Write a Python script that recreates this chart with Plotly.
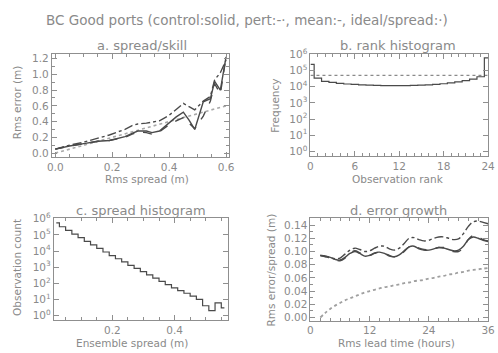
import plotly.graph_objects as go

# ---------------- data ----------------
# a. spread/skill
spread_x = [0.00, 0.05, 0.10, 0.15, 0.19, 0.22, 0.245, 0.27, 0.29, 0.32, 0.34,
            0.366, 0.40, 0.425, 0.45, 0.47, 0.49, 0.52, 0.545, 0.56, 0.58, 0.60]
err_control = [0.05, 0.09, 0.12, 0.15, 0.16, 0.19, 0.21, 0.25, 0.28, 0.28, 0.26,
               0.28, 0.39, 0.46, 0.52, 0.42, 0.30, 0.65, 0.69, 0.91, 0.80, 1.22]
err_pert = [0.05, 0.10, 0.14, 0.19, 0.23, 0.27, 0.30, 0.35, 0.37, 0.38, 0.39,
            0.41, 0.48, 0.56, 0.63, 0.59, 0.55, 0.66, 0.72, 0.93, 1.02, 1.18]
err_mean = [0.05, 0.09, 0.12, 0.15, 0.16, 0.18, 0.20, 0.24, 0.27, 0.26, 0.24,
            0.27, 0.36, 0.41, 0.45, 0.38, 0.31, 0.47, 0.66, 0.88, 0.75, 1.22]
err_ideal = [0.00, 0.05, 0.10, 0.15, 0.19, 0.22, 0.245, 0.27, 0.29, 0.32, 0.34,
             0.366, 0.40, 0.425, 0.45, 0.47, 0.49, 0.52, 0.545, 0.56, 0.58, 0.60]

# b. rank histogram
rank_bins = list(range(25))
rank_freq = [250000, 35000, 22000, 19000, 16500, 15000, 14000, 13200, 12600, 12300,
             12000, 12000, 12000, 12000, 12300, 12600, 13300, 14300, 15500, 17500,
             20000, 24000, 30000, 42000, 630000]

# c. spread histogram
spread_bin_centers = [0.02, 0.04, 0.06, 0.08, 0.10, 0.12, 0.14, 0.16, 0.18, 0.20,
                      0.22, 0.24, 0.26, 0.28, 0.30, 0.32, 0.34, 0.36, 0.38, 0.40,
                      0.42, 0.44, 0.46, 0.48, 0.50, 0.52, 0.54, 0.56]
spread_counts = [560000, 320000, 190000, 112000, 68000, 40000, 24000, 14500, 8700, 5200,
                 3300, 2100, 1300, 830, 520, 330, 210, 130, 83, 52,
                 35, 24, 16, 10, 4, 2, 6, 3]

# d. error growth
lead_hours = [2, 3, 4, 5, 6, 7, 8, 9, 10, 11, 12, 13, 14, 15, 16, 17, 18, 19,
              20, 21, 22, 23, 24, 25, 26, 27, 28, 29, 30, 31, 32, 33, 34, 35, 36]
growth_control = [0.094, 0.093, 0.091, 0.088, 0.087, 0.091, 0.097, 0.100, 0.097, 0.093,
                  0.094, 0.098, 0.099, 0.097, 0.093, 0.092, 0.095, 0.101, 0.107, 0.108,
                  0.104, 0.102, 0.102, 0.104, 0.106, 0.105, 0.103, 0.101, 0.102, 0.108,
                  0.118, 0.122, 0.120, 0.117, 0.115]
growth_mean = [0.094, 0.092, 0.090, 0.087, 0.086, 0.090, 0.097, 0.101, 0.098, 0.094,
               0.094, 0.097, 0.099, 0.097, 0.094, 0.092, 0.094, 0.100, 0.107, 0.109,
               0.105, 0.103, 0.103, 0.104, 0.106, 0.106, 0.103, 0.100, 0.100, 0.106,
               0.118, 0.124, 0.122, 0.118, 0.116]
growth_pert = [0.094, 0.093, 0.091, 0.089, 0.090, 0.096, 0.102, 0.105, 0.103, 0.100,
               0.101, 0.105, 0.108, 0.108, 0.104, 0.102, 0.105, 0.112, 0.120, 0.121,
               0.118, 0.116, 0.117, 0.120, 0.122, 0.122, 0.120, 0.118, 0.119, 0.127,
               0.138, 0.145, 0.146, 0.144, 0.142]
growth_spread = [0.000, 0.007, 0.013, 0.018, 0.022, 0.026, 0.029, 0.032, 0.035, 0.038,
                 0.040, 0.042, 0.044, 0.046, 0.047, 0.049, 0.050, 0.052, 0.053, 0.055,
                 0.056, 0.057, 0.059, 0.060, 0.062, 0.063, 0.065, 0.066, 0.068, 0.069,
                 0.071, 0.072, 0.073, 0.074, 0.075]

log_tickvals = [1, 10, 100, 1000, 10000, 100000, 1000000]
log_ticktext = ["10<sup>0</sup>", "10<sup>1</sup>", "10<sup>2</sup>", "10<sup>3</sup>",
                "10<sup>4</sup>", "10<sup>5</sup>", "10<sup>6</sup>"]

# ---------------- figure ----------------
W, H = 498, 353
FONT = "DejaVu Sans"
TXT = "#8a8a8a"
AX = "#8f8f8f"
LN = "#4a4a4a"


def dx(x0, x1):
    return [x0 / W, x1 / W]


def dy(y0, y1):
    return [1 - y1 / H, 1 - y0 / H]


fig = go.Figure()


def line(x, y, xa, ya, dash, color=LN, width=1.4, shape="linear"):
    fig.add_trace(go.Scatter(x=x, y=y, xaxis=xa, yaxis=ya, mode="lines",
                             line=dict(color=color, width=width, dash=dash, shape=shape),
                             showlegend=False, hoverinfo="skip"))


# a
line(spread_x, err_ideal, "x", "y", "dot", color="#a8a8a8", width=1.6)
line(spread_x, err_pert, "x", "y", "dashdot")
line(spread_x, err_mean, "x", "y", "dash")
line(spread_x, err_control, "x", "y", "solid")

# b
ideal_freq = sum(rank_freq) / len(rank_freq)
line([rank_bins[0], rank_bins[-1]], [ideal_freq, ideal_freq], "x2", "y2", "dot",
     color="#8a8a8a", width=1.2)
line(rank_bins, rank_freq, "x2", "y2", "solid", shape="hvh", width=1.2)

# c
line(spread_bin_centers, spread_counts, "x3", "y3", "solid", shape="hvh", width=1.2)

# d
line(lead_hours, growth_spread, "x4", "y4", "dot", color="#a0a0a0", width=1.8, shape="spline")
line(lead_hours, growth_pert, "x4", "y4", "dashdot", shape="spline")
line(lead_hours, growth_mean, "x4", "y4", "dash", shape="spline")
line(lead_hours, growth_control, "x4", "y4", "solid", shape="spline")


def axis(domain, anchor, rng, tickvals, ticktext=None, log=False, minor=True):
    d = dict(domain=domain, anchor=anchor, range=rng, showline=True, linecolor=AX,
             linewidth=1, mirror="ticks", ticks="inside", ticklen=5, tickcolor=AX,
             showgrid=False, zeroline=False, tickmode="array", tickvals=tickvals,
             tickfont=dict(family=FONT, size=10.5, color=TXT))
    if ticktext is not None:
        d["ticktext"] = ticktext
    if log:
        d["type"] = "log"
    if minor:
        d["minor"] = dict(ticks="inside", ticklen=3, tickcolor=AX, nticks=5)
    return d


fig.update_layout(
    width=W, height=H, margin=dict(l=0, r=0, t=0, b=0),
    paper_bgcolor="white", plot_bgcolor="white",
    xaxis=axis(dx(48, 230), "y", [-0.012, 0.612], [0.0, 0.2, 0.4, 0.6],
               ["0.0", "0.2", "0.4", "0.6"]),
    yaxis=axis(dy(48, 154), "x", [-0.05, 1.26], [0.0, 0.2, 0.4, 0.6, 0.8, 1.0, 1.2],
               ["0.0", "0.2", "0.4", "0.6", "0.8", "1.0", "1.2"]),
    xaxis2=axis(dx(313, 495), "y2", [0, 24], [0, 6, 12, 18, 24]),
    yaxis2=axis(dy(48, 153), "x2", [-0.3, 6.05], log_tickvals, log_ticktext, log=True,
                minor=False),
    xaxis3=axis(dx(50, 228), "y3", [0.012, 0.57], [0.2, 0.4], ["0.2", "0.4"]),
    yaxis3=axis(dy(216.5, 321.5), "x3", [-0.3, 6.05], log_tickvals, log_ticktext, log=True,
                minor=False),
    xaxis4=axis(dx(313, 495), "y4", [0, 36], [0, 12, 24, 36]),
    yaxis4=axis(dy(217, 322), "x4", [-0.005, 0.15],
                [0.0, 0.02, 0.04, 0.06, 0.08, 0.10, 0.12, 0.14],
                ["0.00", "0.02", "0.04", "0.06", "0.08", "0.10", "0.12", "0.14"]),
)


def text(s, x, y, size=11, angle=0):
    fig.add_annotation(text=s, x=x / W, y=1 - y / H, xref="paper", yref="paper",
                       showarrow=False, textangle=angle, xanchor="center", yanchor="middle",
                       font=dict(family=FONT, size=size, color=TXT))


text("BC Good ports (control:solid, pert:-·, mean:-, ideal/spread:·)", 248, 13, size=13.5)
text("a. spread/skill", 140, 40, size=13)
text("b. rank histogram", 403, 40, size=13)
text("c. spread histogram", 139, 209, size=13)
text("d. error growth", 403, 209, size=13)

text("Rms spread (m)", 145, 177, size=10.5)
text("Rms error (m)", 12, 98, size=10.5, angle=-90)
text("Observation rank", 403, 177, size=10.5)
text("Frequency", 277, 101, size=10.5, angle=-90)
text("Ensemble spread (m)", 130, 345, size=10.5)
text("Observation count", 12, 267, size=10.5, angle=-90)
text("Rms lead time (hours)", 401, 345, size=10.5)
text("Rms error/spread (m)", 273, 270, size=10.5, angle=-90)

fig.write_html("out.html", config={"displayModeBar": False},
               post_script="document.body.style.margin='0';document.body.style.overflow='hidden';")
